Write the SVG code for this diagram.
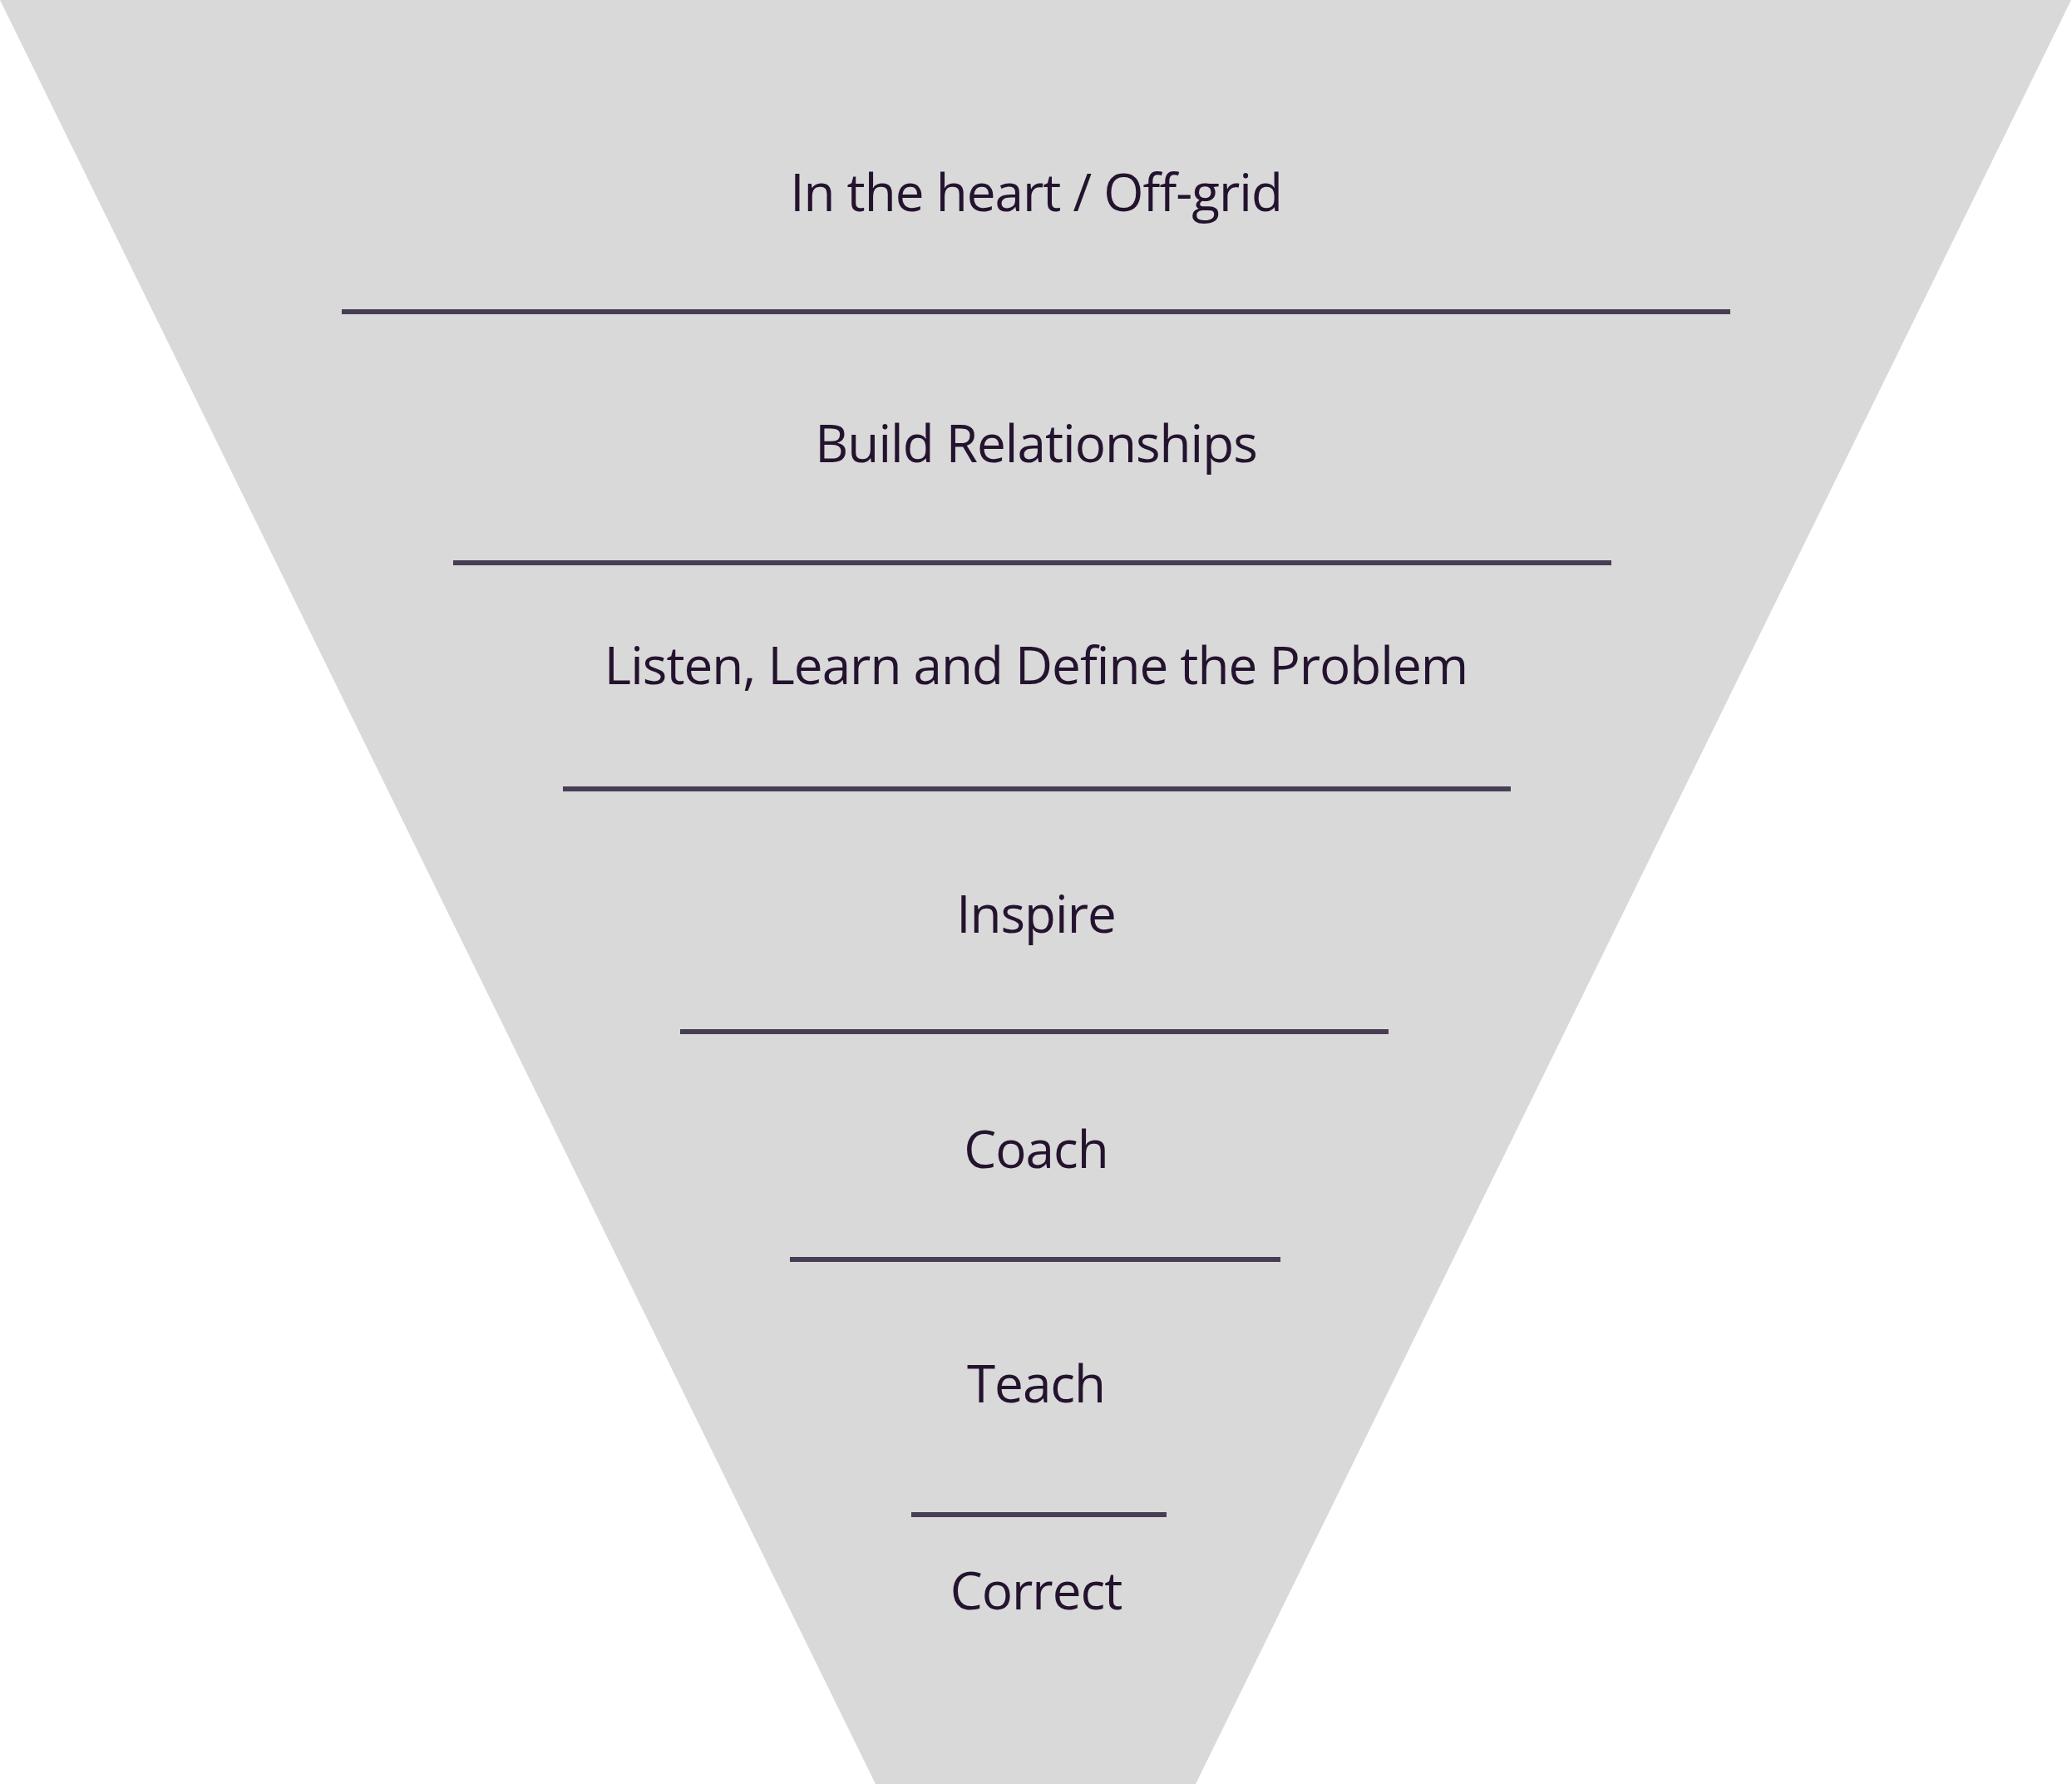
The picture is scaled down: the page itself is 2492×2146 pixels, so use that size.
<svg xmlns="http://www.w3.org/2000/svg" width="2492" height="2146" viewBox="0 0 2492 2146">
<style>
.lbl{font-family:"Open Sans","Noto Sans","Liberation Sans",sans-serif;font-size:62px;letter-spacing:-1px;fill:#24132e;text-anchor:middle}
.sep{stroke:#483e54;stroke-width:6;fill:none}
</style>
<rect width="2492" height="2146" fill="#ffffff"/>
<g id="funnel">
<polygon points="0,0 2491,0 1438,2146 1053,2146" fill="#d9d9d9"/>
</g>
<g id="separators">
<line class="sep" x1="411" y1="375" x2="2081" y2="375"/>
<line class="sep" x1="545" y1="677" x2="1938" y2="677"/>
<line class="sep" x1="677" y1="949" x2="1817" y2="949"/>
<line class="sep" x1="818" y1="1241" x2="1670" y2="1241"/>
<line class="sep" x1="950" y1="1515" x2="1540" y2="1515"/>
<line class="sep" x1="1096" y1="1822" x2="1403" y2="1822"/>
</g>
<g id="level1"><text class="lbl" x="1246" y="254">In the heart / Off-grid</text></g>
<g id="level2"><text class="lbl" x="1246" y="556">Build Relationships</text></g>
<g id="level3"><text class="lbl" x="1246" y="823">Listen, Learn and Define the Problem</text></g>
<g id="level4"><text class="lbl" x="1246" y="1122">Inspire</text></g>
<g id="level5"><text class="lbl" x="1246" y="1405">Coach</text></g>
<g id="level6"><text class="lbl" x="1246" y="1687">Teach</text></g>
<g id="level7"><text class="lbl" x="1246" y="1936">Correct</text></g>
</svg>
